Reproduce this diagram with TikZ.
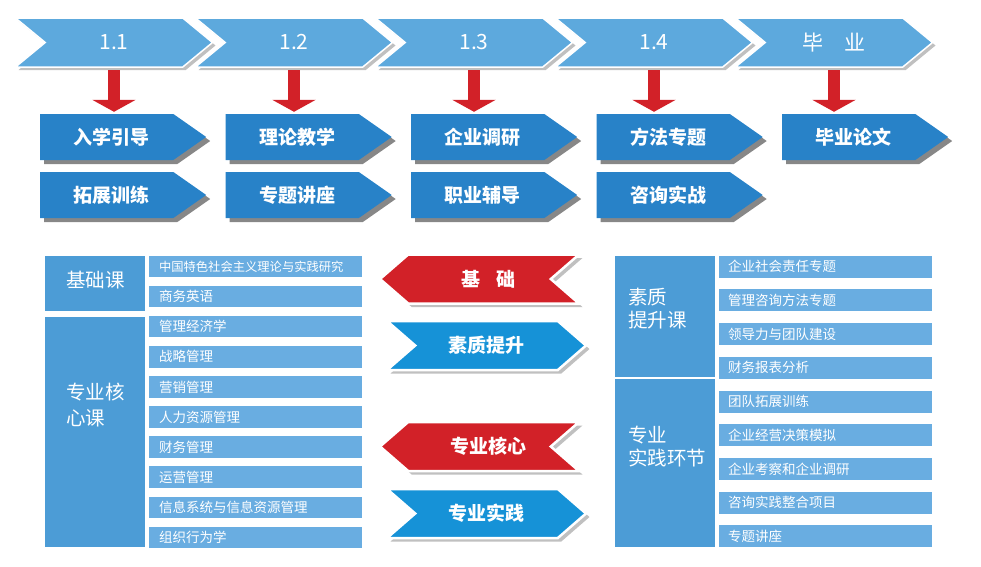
\documentclass[tikz,border=0pt]{standalone}
\usepackage{fontspec}
\setmainfont{Noto Sans CJK SC}
\usepackage{tikz}
\usetikzlibrary{shapes.symbols,shadows,arrows.meta,positioning}
\definecolor{mystageblue}{RGB}{93,169,221}
\definecolor{mystepblue}{RGB}{40,130,200}
\definecolor{myred}{RGB}{210,33,40}
\definecolor{mycyan}{RGB}{22,146,215}
\definecolor{myboxblue}{RGB}{76,156,214}
\definecolor{myrowblue}{RGB}{105,173,225}
\definecolor{mygray}{RGB}{192,192,192}
\definecolor{mydarkgray}{RGB}{135,135,135}
\begin{document}
\begin{tikzpicture}[
  x=1pt, y=-1pt,
  mystage/.style={
    signal,
    signal to=east,
    signal from=west,
    signal pointer angle=79,
    fill=mystageblue,
    draw=white,
    line width=1.5pt,
    minimum width=197pt,
    minimum height=49pt,
    inner sep=0pt,
    text=white,
    font=\fontsize{21}{21}\selectfont,
    drop shadow={shadow xshift=3pt, shadow yshift=-3pt, fill=mygray, draw=none, opacity=1}
    },
  mystep/.style={
    signal,
    signal to=east,
    signal pointer angle=70,
    fill=mystepblue,
    minimum width=166pt,
    minimum height=46pt,
    inner sep=0pt,
    text=white,
    font=\bfseries\fontsize{19}{19}\selectfont,
    execute at begin node={\hspace*{10pt}},
    drop shadow={shadow xshift=4pt, shadow yshift=-4pt, fill=mydarkgray, opacity=1}
    },
  mysign/.style={
    signal,
    signal pointer angle=82,
    draw=white,
    line width=2.5pt,
    minimum width=199pt,
    minimum height=49pt,
    inner sep=0pt,
    text=white,
    font=\bfseries\fontsize{19}{19}\selectfont,
    drop shadow={shadow xshift=3.5pt, shadow yshift=-3.5pt, fill=mygray, draw=none, opacity=1}
    },
  myleft/.style={mysign, signal to=west, signal from=east, fill=myred,
    execute at begin node={\hspace*{18pt}}},
  myright/.style={mysign, signal to=east, signal from=west, fill=mycyan},
  mydown/.style={
    draw=myred,
    line width=12pt,
    -{Triangle[width=43pt,length=12pt]},
    shorten >=2pt
    },
  myhead/.style={fill=myboxblue, minimum width=100pt, inner sep=0pt},
  myheadtext/.style={
    text=white,
    align=left,
    inner sep=0pt,
    font=\fontsize{19.5}{#1}\selectfont
    },
  myrow/.style={
    fill=myrowblue,
    minimum height=21.5pt,
    text width=193pt,
    inner xsep=10pt,
    inner ysep=0pt,
    align=left,
    text=white,
    font=\fontsize{13.5}{14}\selectfont
    }
]
\useasboundingbox (0,0) rectangle (981,566);

\foreach \Stage [count=\i from 1] in {1.1, 1.2, 1.3, 1.4, 毕\hspace{1em}业}
  \node[mystage] (s\i) at ({114+180*(\i-1)},42.5) {\Stage};

\foreach \Upper/\Lower [count=\i from 1] in {入学引导/拓展训练, 理论教学/专题讲座, 企业调研/职业辅导, 方法专题/咨询实战}
  {
  \node[mystep, anchor=west] (t\i) at ({40+185.5*(\i-1)},137) {\Upper};
  \node[mystep, anchor=west] (b\i) at ({40+185.5*(\i-1)},195) {\Lower};
  }
\node[mystep, anchor=west] (t5) at (782,137) {毕业论文};

\foreach \i in {1,...,5}
  \draw[mydown] ([yshift=-27.5pt]s\i.center) -- (s\i.center |- t\i.north);

\node[myleft] (jc) at (479.5,279) {基\hspace{0.8em}础};
\node[myright] (sz) at (486.5,345.5) {素质提升};
\node[myleft] (hx) at (479.5,446.5) {专业核心};
\node[myright] (sj) at (486.5,513.5) {专业实践};

\node[myhead, minimum height=55pt] (h1) at (95,283.5) {};
\node[myhead, minimum height=230pt] (h2) at (95,431.7) {};
\node[myheadtext=26pt, text width=59pt] (h1t) at (95.5,280) {基础课};
\node[myheadtext=26pt, text width=59pt] (h2t) at (95.5,405) {专业核\\心课};

\foreach \Course [count=\i from 1] in {{\fontsize{12.3}{14}\selectfont 中国特色社会主义理论与实践研究}, 商务英语, 管理经济学, 战略管理, 营销管理, 人力资源管理, 财务管理, 运营管理, 信息系统与信息资源管理, 组织行为学}
  \node[myrow] (l\i) at (255.5,{266.5+30.1*(\i-1)}) {\Course};

\node[myhead, minimum height=121pt] (h3) at (665,316.5) {};
\node[myhead, minimum height=168pt] (h4) at (665,463) {};
\node[myheadtext=23pt, text width=78pt] (h3t) at (667,308.5) {素质\\提升课};
\node[myheadtext=23pt, text width=78pt] (h4t) at (667,446.5) {专业\\实践环节};

\foreach \Course [count=\i from 1] in {企业社会责任专题, 管理咨询方法专题, 领导力与团队建设, 财务报表分析, 团队拓展训练, 企业经营决策模拟, 企业考察和企业调研, 咨询实践整合项目, 专题讲座}
  \node[myrow, minimum height=22pt, text width=195pt, inner xsep=9pt] (r\i) at (825.5,{266.7+33.7*(\i-1)}) {\Course};

\end{tikzpicture}
\end{document}
